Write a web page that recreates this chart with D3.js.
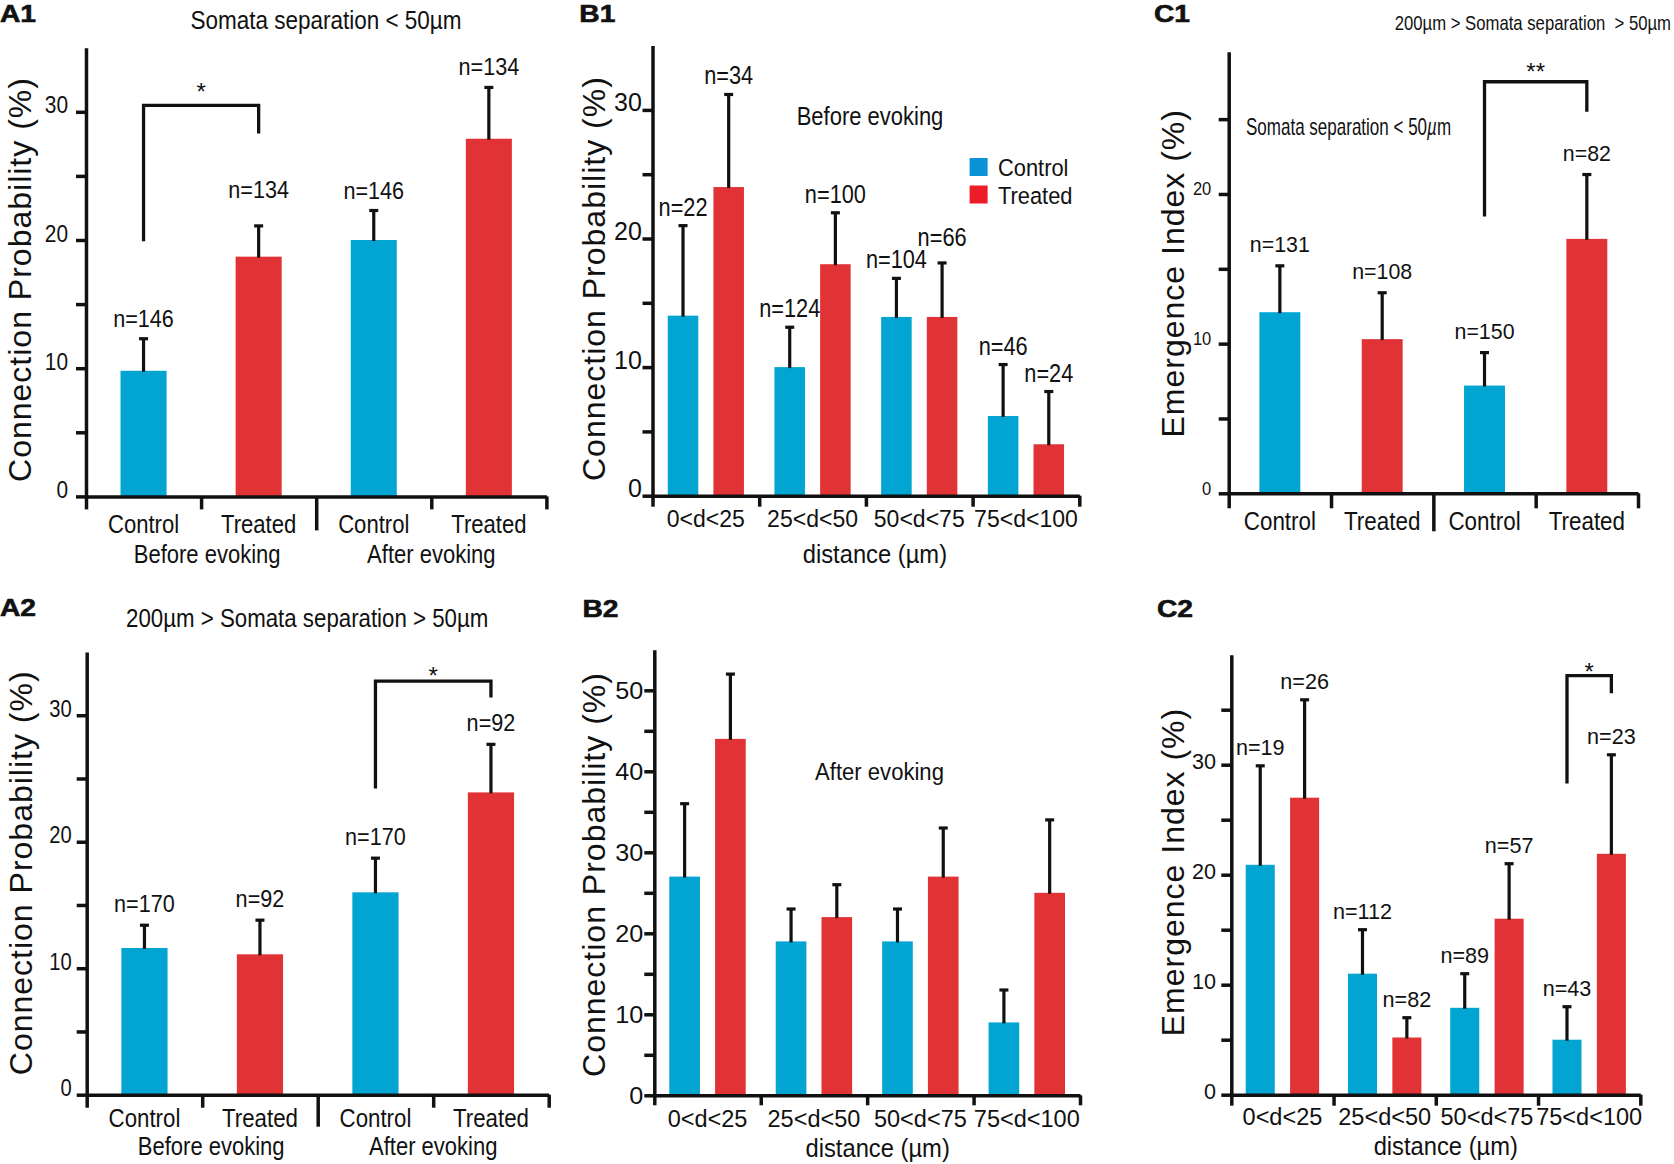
<!DOCTYPE html>
<html><head><meta charset="utf-8">
<script src="https://cdn.jsdelivr.net/npm/d3@7"></script>
<style>
body{margin:0;background:#fff;}
svg{display:block;color:#111;}
text{font-family:"Liberation Sans",Arial,Helvetica,sans-serif;fill:#111;white-space:pre;}
</style>
</head><body>
<svg id="fig" width="1674" height="1164" viewBox="0 0 1674 1164"></svg>
<script>
// ---------------- data ----------------
const groupCats = ["Control", "Treated", "Control", "Treated"];
const groupLabels = ["Before evoking", "After evoking"];
const distanceBins = ["0<d<25", "25<d<50", "50<d<75", "75<d<100"];
const legendLabels = ["Control", "Treated"];

const a1Values = [9.8, 18.7, 20.0, 27.9];
const a1Sem = [2.5, 2.4, 2.3, 4.0];
const a1N = [146, 134, 146, 134];

const a2Values = [11.6, 11.1, 16.0, 23.9];
const a2Sem = [1.8, 2.7, 2.7, 3.8];
const a2N = [170, 92, 170, 92];

const c1Values = [12.1, 10.3, 7.2, 17.0];
const c1Sem = [3.1, 3.1, 2.2, 4.3];
const c1N = [131, 108, 150, 82];

const b1Control = [14.0, 10.0, 13.9, 6.2];
const b1ControlSem = [7.0, 3.1, 3.0, 4.0];
const b1Treated = [24.0, 18.0, 13.9, 4.0];
const b1TreatedSem = [7.2, 4.0, 4.2, 4.1];
const b1ControlN = [22, 124, 104, 46];
const b1TreatedN = [34, 100, 66, 24];

const b2Control = [27, 19, 19, 9];
const b2ControlSem = [9, 4, 4, 4];
const b2Treated = [44, 22, 27, 25];
const b2TreatedSem = [8, 4, 6, 9];

const c2Control = [20.9, 11.0, 7.9, 5.0];
const c2ControlSem = [9.0, 4.0, 3.1, 3.0];
const c2Treated = [27.0, 5.2, 16.0, 21.9];
const c2TreatedSem = [8.9, 1.8, 5.0, 9.0];
const c2ControlN = [19, 112, 89, 43];
const c2TreatedN = [26, 82, 57, 23];

const ticks35 = [0, 10, 20, 30], minor35 = [5, 15, 25];
const ticks30 = [0, 10, 20], minor30 = [5, 15, 25];
const ticks55 = [0, 10, 20, 30, 40, 50], minor55 = [5, 15, 25, 35, 45];
const ticks40 = [0, 10, 20, 30], minor40 = [5, 15, 25, 35];

// significance brackets: [from, to, leftBottom, top, rightBottom, mark]
const a1Sig = [0, 1, 19.9, 30.5, 28.3, "*"];
const a2Sig = [2, 3, 24.2, 32.7, 31.4, "*"];
const c1Sig = [2, 3, 18.5, 27.5, 25.5, "**"];
const c2Sig = [3, 3, 28.3, 38.1, 36.5, "*"]; // control -> treated in bin 3

// ---------------- style ----------------
const BLUE = "#02a5d2", RED = "#e13236";
const LEG_BLUE = "#0a92d8", LEG_RED = "#ec1d26";
const INK = "#111";
const AXW = 3.5, ERRW = 3.2, CAP = 9;

const svg = d3.select("#fig");

function addText(g, str, x, y, o) {
  const t = g.append("text")
    .attr("transform", `translate(${x},${y})` + (o.rotate ? ` rotate(${o.rotate})` : "") + ` scale(${o.sx || 1},1)`)
    .attr("text-anchor", o.anchor || "middle")
    .attr("font-size", o.size);
  if (o.weight) t.attr("font-weight", o.weight);
  if (o.ls) t.attr("letter-spacing", o.ls);
  if (o.stroke) t.attr("stroke", INK).attr("stroke-width", o.stroke);
  if (str !== null) t.text(str);
  return t;
}

function styleAxis(ax) {
  ax.attr("font-family", null).attr("font-size", null);
  ax.selectAll("path,line").attr("stroke", INK).attr("stroke-width", AXW);
}

function yAxis(g, y, c) {
  const ax = g.append("g").attr("transform", `translate(${c.x0},0)`)
    .call(d3.axisLeft(y).tickValues(c.major).tickSize(10).tickSizeOuter(0).tickFormat(d3.format("d")));
  styleAxis(ax);
  ax.selectAll(".tick text").attr("x", null).attr("dy", null)
    .attr("font-size", c.tickFont)
    .attr("transform", `translate(${-c.tickGap},${c.tickDy}) scale(${c.tickSx},1)`);
  const mn = g.append("g").attr("transform", `translate(${c.x0},0)`)
    .call(d3.axisLeft(y).tickValues(c.minor).tickSize(10).tickFormat(""));
  mn.select(".domain").remove();
  styleAxis(mn);
  addText(g, c.yTitle, c.titleX, c.titleY, {size: 32, rotate: -90, ls: 1});
}

function xSeparators(g, c) {
  const xe = d3.scaleLinear().domain([0, 4]).range([c.x0, c.x1]);
  const ax = g.append("g").attr("transform", `translate(0,${c.y0})`)
    .call(d3.axisBottom(xe).tickValues([0, 1, 2, 3, 4]).tickSize(c.sepShort).tickSizeOuter(0).tickFormat(""));
  styleAxis(ax);
  if (c.sepLong) ax.selectAll(".tick line").filter(d => d === 2).attr("y2", c.sepLong);
}

function errorBar(g, cx, y, v, s) {
  g.append("line").attr("x1", cx).attr("x2", cx).attr("y1", y(v) + 1).attr("y2", y(v + s))
    .attr("stroke", INK).attr("stroke-width", ERRW);
  g.append("line").attr("x1", cx - CAP / 2).attr("x2", cx + CAP / 2).attr("y1", y(v + s)).attr("y2", y(v + s))
    .attr("stroke", INK).attr("stroke-width", ERRW);
}

function bracket(g, x1, x2, y, sig, c) {
  const pts = [[x1, y(sig[2])], [x1, y(sig[3])], [x2, y(sig[3])], [x2, y(sig[4])]];
  g.append("path").attr("d", d3.line()(pts)).attr("fill", "none")
    .attr("stroke", INK).attr("stroke-width", 3.3).attr("stroke-linejoin", "miter");
  const cy = y(sig[3]) - c.starGap;
  addText(g, sig[5], (x1 + x2) / 2, cy + 0.585 * 24, {size: 24});
}

function groupedPanel(c) {
  const g = svg.append("g");
  const y = d3.scaleLinear().domain(c.domain).range([c.y0, c.yTop]);
  const xb = d3.scaleBand().domain(d3.range(c.values.length)).range([c.x0, c.x1]).padding(0);
  const bw = xb.bandwidth(), w = bw * 0.4;
  c.values.forEach((v, i) => {
    const cx = xb(i) + bw / 2;
    g.append("rect").attr("x", cx - w / 2).attr("width", w).attr("y", y(v)).attr("height", y(0) - y(v))
      .attr("fill", i % 2 === 0 ? BLUE : RED);
    errorBar(g, cx, y, v, c.sem[i]);
    const lift = (c.nLift && c.nLift[i]) || 0;
    addText(g, "n=" + c.n[i], cx, y(v + c.sem[i]) - c.nGap - lift, {size: c.nFont, sx: c.nSx});
    addText(g, groupCats[i], cx, c.catY, {size: c.catFont, sx: c.catSx});
  });
  yAxis(g, y, c);
  xSeparators(g, c);
  if (c.groupY) {
    groupLabels.forEach((lab, k) => {
      const gx = (xb(2 * k) + xb(2 * k + 1) + bw) / 2 + c.groupDx[k];
      addText(g, lab, gx, c.groupY, {size: 25.6, sx: 0.86});
    });
  }
  if (c.sig) {
    const s = c.sig;
    bracket(g, xb(s[0]) + bw / 2, xb(s[1]) + bw / 2, y, s, c);
  }
  return {g, y, xb};
}

function distancePanel(c) {
  const g = svg.append("g");
  const y = d3.scaleLinear().domain(c.domain).range([c.y0, c.yTop]);
  const xb = d3.scaleBand().domain(distanceBins).range([c.x0, c.x1]).padding(0);
  const bw = xb.bandwidth(), w = bw * c.barFrac, off = bw * c.offFrac;
  const series = [
    {vals: c.control, sem: c.controlSem, n: c.controlN, col: BLUE, dx: -off, lift: c.liftC || {}},
    {vals: c.treated, sem: c.treatedSem, n: c.treatedN, col: RED, dx: off, lift: c.liftT || {}}
  ];
  series.forEach(s => {
    s.vals.forEach((v, i) => {
      const cx = xb(distanceBins[i]) + bw / 2 + s.dx;
      g.append("rect").attr("x", cx - w / 2).attr("width", w).attr("y", y(v)).attr("height", y(0) - y(v))
        .attr("fill", s.col);
      errorBar(g, cx, y, v, s.sem[i]);
      if (s.n) addText(g, "n=" + s.n[i], cx, y(v + s.sem[i]) - c.nGap - (s.lift[i] || 0), {size: c.nFont, sx: c.nSx});
    });
  });
  distanceBins.forEach(b => addText(g, b, xb(b) + bw / 2, c.catY, {size: c.catFont, sx: c.catSx}));
  yAxis(g, y, c);
  xSeparators(g, c);
  addText(g, "distance (µm)", (c.x0 + c.x1) / 2 + c.distDx, c.distY, {size: 25, sx: 0.95});
  if (c.sig) {
    const s = c.sig;
    const xl = xb(distanceBins[s[0]]) + bw / 2 - off, xr = xb(distanceBins[s[1]]) + bw / 2 + off;
    bracket(g, xl, xr, y, s, c);
  }
  return {g, y, xb};
}

// ---------------- panels ----------------
groupedPanel({
  x0: 86, x1: 546.4, y0: 496.4, yTop: 47.7, domain: [0, 35], major: ticks35, minor: minor35,
  values: a1Values, sem: a1Sem, n: a1N, nFont: 24, nSx: 0.9, nGap: 12, nLift: {1: 16},
  catY: 532.7, catFont: 26, catSx: 0.85, groupY: 563.3, groupDx: [6, 0],
  tickFont: 24, tickSx: 0.87, tickGap: 18, tickDy: 1, sepShort: 13, sepLong: 34,
  yTitle: "Connection Probability (%)", titleX: 31, titleY: 279.5, sig: a1Sig, starGap: 19
});
groupedPanel({
  x0: 86.7, x1: 548.7, y0: 1094.7, yTop: 652, domain: [0, 35], major: ticks35, minor: minor35,
  values: a2Values, sem: a2Sem, n: a2N, nFont: 23.5, nSx: 0.92, nGap: 13,
  catY: 1127, catFont: 25.6, catSx: 0.87, groupY: 1155.3, groupDx: [9, 0],
  tickFont: 23.5, tickSx: 0.86, tickGap: 15, tickDy: 1, sepShort: 13, sepLong: 32,
  yTitle: "Connection Probability (%)", titleX: 32, titleY: 872.8, sig: a2Sig, starGap: 11.5
});
groupedPanel({
  x0: 1228.7, x1: 1638, y0: 493.3, yTop: 51.8, domain: [0, 29.5], major: ticks30, minor: minor30,
  values: c1Values, sem: c1Sem, n: c1N, nFont: 22.5, nSx: 0.95, nGap: 13.5,
  catY: 530, catFont: 25.6, catSx: 0.875,
  tickFont: 19, tickSx: 0.87, tickGap: 17.4, tickDy: 1, sepShort: 15, sepLong: 38,
  yTitle: "Emergence Index (%)", titleX: 1184, titleY: 273.3, sig: c1Sig, starGap: 15.7
});
distancePanel({
  x0: 652.5, x1: 1079.3, y0: 495.7, yTop: 45.6, domain: [0, 35], major: ticks35, minor: minor35,
  control: b1Control, controlSem: b1ControlSem, controlN: b1ControlN,
  treated: b1Treated, treatedSem: b1TreatedSem, treatedN: b1TreatedN,
  barFrac: 0.286, offFrac: 0.214, nFont: 25, nSx: 0.87, nGap: 10, liftT: {2: 7},
  catY: 526.8, catFont: 24.5, catSx: 0.94, distY: 563, distDx: 9,
  tickFont: 25, tickSx: 1.0, tickGap: 10.7, tickDy: 1, sepShort: 11,
  yTitle: "Connection Probability (%)", titleX: 604.5, titleY: 278.6
});
distancePanel({
  x0: 654.3, x1: 1080, y0: 1095.3, yTop: 649.8, domain: [0, 55], major: ticks55, minor: minor55,
  control: b2Control, controlSem: b2ControlSem, controlN: null,
  treated: b2Treated, treatedSem: b2TreatedSem, treatedN: null,
  barFrac: 0.288, offFrac: 0.215, nFont: 24, nSx: 0.9, nGap: 10,
  catY: 1127, catFont: 24, catSx: 0.98, distY: 1157, distDx: 10.5,
  tickFont: 24, tickSx: 1.05, tickGap: 11, tickDy: 8, sepShort: 10,
  yTitle: "Connection Probability (%)", titleX: 605, titleY: 874.5
});
distancePanel({
  x0: 1231.3, x1: 1640.3, y0: 1094.7, yTop: 654.7, domain: [0, 40], major: ticks40, minor: minor40,
  control: c2Control, controlSem: c2ControlSem, controlN: c2ControlN,
  treated: c2Treated, treatedSem: c2TreatedSem, treatedN: c2TreatedN,
  barFrac: 0.284, offFrac: 0.217, nFont: 22.5, nSx: 0.96, nGap: 11,
  catY: 1125.3, catFont: 24, catSx: 0.98, distY: 1155.3, distDx: 10,
  tickFont: 22, tickSx: 0.98, tickGap: 15.3, tickDy: 4, sepShort: 11,
  yTitle: "Emergence Index (%)", titleX: 1184, titleY: 872, sig: c2Sig, starGap: 10
});

// ---------------- titles & labels ----------------
const ann = svg.append("g");
[["A1", 0, 22], ["B1", 579.3, 22], ["C1", 1154, 22.3], ["A2", 0, 615.5], ["B2", 582.4, 616.5], ["C2", 1157, 616.5]]
  .forEach(([t, x, y]) => addText(ann, t, x, y, {size: 23.5, weight: "bold", anchor: "start", sx: 1.2, stroke: 0.6}));

addText(ann, "Somata separation < 50µm", 326, 28.6, {size: 25, sx: 0.9});
addText(ann, "200µm > Somata separation > 50µm", 307.2, 626.7, {size: 25.6, sx: 0.87});
addText(ann, "Before evoking", 870, 125, {size: 25, sx: 0.88});
addText(ann, "After evoking", 879.5, 780.3, {size: 24, sx: 0.92});
addText(ann, "200µm > Somata separation  > 50µm", 1394.7, 30, {size: 21, sx: 0.795, anchor: "start"});
const inner = addText(ann, null, 1246, 135, {size: 23, sx: 0.74, anchor: "start"});
inner.append("tspan").text("Somata separation < 50");
inner.append("tspan").attr("font-style", "italic").text("µ");
inner.append("tspan").text("m");

// legend (B1)
const leg = svg.append("g");
[[LEG_BLUE, 158], [LEG_RED, 185.5]].forEach(([col, yy], i) => {
  leg.append("rect").attr("x", 969.6).attr("y", yy).attr("width", 18).attr("height", 18).attr("fill", col);
  addText(leg, legendLabels[i], 998, yy + 18, {size: 23.5, sx: 0.93, anchor: "start"});
});
</script>
</body></html>
